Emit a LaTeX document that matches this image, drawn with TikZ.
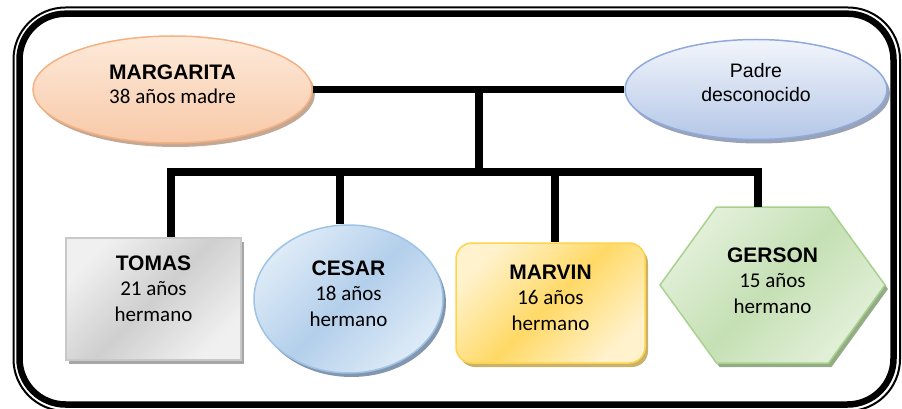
\documentclass[tikz,border=0pt]{standalone}
\usepackage{fontspec}
\setmainfont{Carlito}
\newfontfamily\arialfont{Liberation Sans}
\usetikzlibrary{shapes.geometric, shadows}

\definecolor{peachline}{HTML}{F4B183}
\definecolor{peachtop}{HTML}{FDEADA}
\definecolor{peachbot}{HTML}{F8C9A8}
\definecolor{peachshadow}{HTML}{C4A894}
\definecolor{blueline}{HTML}{8FAADC}
\definecolor{bluetop}{HTML}{F2F5FB}
\definecolor{bluebot}{HTML}{B4C7E7}
\definecolor{blueshadow}{HTML}{9AA3B5}
\definecolor{grayline}{HTML}{C8C8C8}
\definecolor{graylight}{HTML}{F0F0F0}
\definecolor{graydark}{HTML}{CFCFCF}
\definecolor{grayshadow}{HTML}{A6A6A6}
\definecolor{skyline}{HTML}{9DC3E6}
\definecolor{skylight}{HTML}{DEEBF7}
\definecolor{skydark}{HTML}{B3CFEB}
\definecolor{skyshadow}{HTML}{8496AE}
\definecolor{goldline}{HTML}{FFD34D}
\definecolor{goldlight}{HTML}{FFF2CC}
\definecolor{golddark}{HTML}{FFD966}
\definecolor{goldshadow}{HTML}{C9B36A}
\definecolor{leafline}{HTML}{A9D18E}
\definecolor{leaflight}{HTML}{E3F0DA}
\definecolor{leafdark}{HTML}{C5E0B4}
\definecolor{leafshadow}{HTML}{94AC86}

\begin{document}
\begin{tikzpicture}[x=1pt, y=-1pt,
    castshadow/.style={drop shadow={shadow xshift=3pt, shadow yshift=-4pt, opacity=1, fill=#1}},
    parentnode/.style={ellipse, line width=1.5pt, inner sep=0pt},
    childnode/.style={line width=1.5pt, inner sep=0pt},
    nametext/.style={inner sep=0pt, align=center, font=\fontsize{21}{25.5}\selectfont},
    link/.style={line width=7.5pt}]
    \useasboundingbox (0,0) rectangle (902,409);

    % Frame
    \draw[line width=2pt, rounded corners=52pt] (13.5,7.5) rectangle (900,411);
    \draw[line width=6.5pt, rounded corners=46pt] (19.5,13.7) rectangle (893.5,404.5);

    % Parents
    \node[parentnode, minimum width=279pt, minimum height=107pt, draw=peachline,
        top color=peachtop, bottom color=peachbot, castshadow=peachshadow] (margarita) at (172.5,89.5) {};
    \node[parentnode, minimum width=262pt, minimum height=100pt, draw=blueline,
        top color=bluetop, bottom color=bluebot, castshadow=blueshadow] (padre) at (756,89.5) {};
    \node[nametext, font=\fontsize{21}{24}\selectfont] (margaritatxt) at ([yshift=5.5pt]margarita.center)
        {{\arialfont\bfseries MARGARITA}\\38 años madre};
    \node[nametext, font=\arialfont\fontsize{19.5}{24.5}\selectfont] (padretxt) at ([yshift=7pt]padre.center)
        {Padre\\desconocido};

    % Children
    \node[childnode, rectangle, minimum width=175pt, minimum height=122pt, draw=grayline,
        top color=graylight, bottom color=graylight, middle color=graydark, shading angle=45,
        castshadow=grayshadow] (tomas) at (153.5,299) {};
    \node[childnode, ellipse, minimum width=189pt, minimum height=148pt, draw=skyline,
        top color=skylight, bottom color=skylight, middle color=skydark, shading angle=45,
        castshadow=skyshadow] (cesar) at (348.5,299) {};
    \node[childnode, rectangle, rounded corners=16pt, minimum width=189pt, minimum height=120pt, draw=goldline,
        top color=goldlight, bottom color=goldlight, middle color=golddark, shading angle=45,
        castshadow=goldshadow] (marvin) at (550.5,303) {};

    % Hexagon for GERSON
    \node[inner sep=0pt, minimum width=225pt, minimum height=156pt] (gerson) at (772.5,285) {};
    \fill[leafshadow, xshift=3pt, yshift=-4pt] (716.5,207) -- (828.5,207) -- (885,285) -- (828.5,363) -- (716.5,363) -- (660,285) -- cycle;
    \path[draw=leafline, line width=1.5pt, top color=leaflight, bottom color=leaflight, middle color=leafdark, shading angle=45]
        (716.5,207) -- (828.5,207) -- (885,285) -- (828.5,363) -- (716.5,363) -- (660,285) -- cycle;

    \node[nametext] (tomastxt) at ([yshift=10.5pt]tomas.center) {{\arialfont\bfseries TOMAS}\\21 años\\hermano};
    \node[nametext] (cesartxt) at ([yshift=5.5pt]cesar.center) {{\arialfont\bfseries CESAR}\\18 años\\hermano};
    \node[nametext] (marvintxt) at ([yshift=5.5pt]marvin.center) {{\arialfont\bfseries MARVIN}\\16 años\\hermano};
    \node[nametext] (gersontxt) at ([yshift=4.5pt]gerson.center) {{\arialfont\bfseries GERSON}\\15 años\\hermano};

    % Lines
    \coordinate (couple) at (479,89.5);
    \coordinate (bar) at (479,172);
    \draw[link] (margarita.east) -- (padre.west);
    \draw[link] (couple) -- (bar);
    \draw[link] ([xshift=17.5pt]tomas.north) |- (bar) -| ([xshift=-14.5pt]gerson.north);
    \draw[link] ([xshift=-8.5pt]cesar.north) -- ([xshift=-8.5pt]cesar.north |- bar);
    \draw[link] ([xshift=4.5pt]marvin.north) -- ([xshift=4.5pt]marvin.north |- bar);
\end{tikzpicture}
\end{document}
